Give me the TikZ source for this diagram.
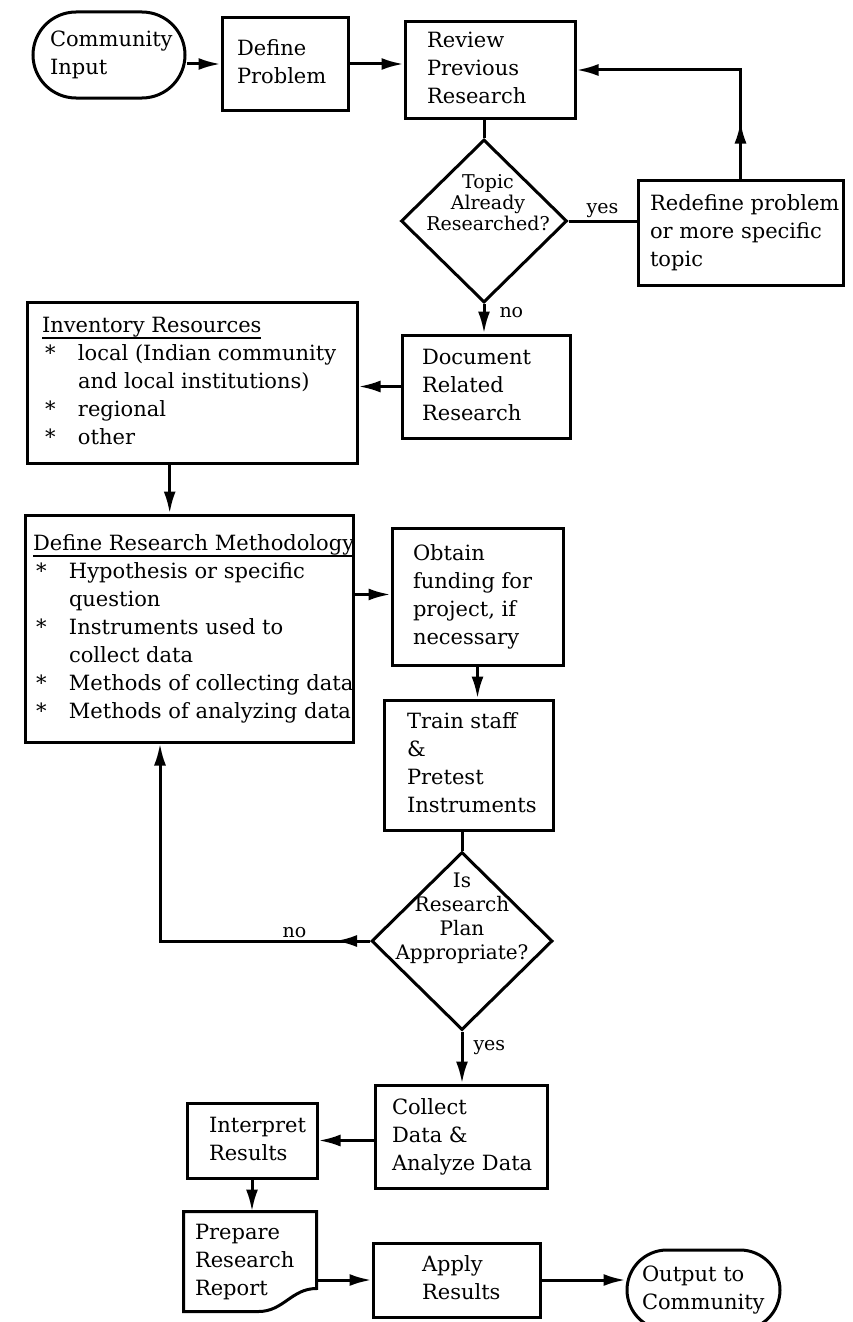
\documentclass[tikz,border=0pt]{standalone}
\usepackage{fontspec}
\setmainfont{DejaVu Serif}
\usetikzlibrary{arrows.meta,shapes.geometric,calc,decorations.markings}
\hyphenpenalty=10000 \exhyphenpenalty=10000
\newlength\bulw \setlength\bulw{36pt}
\newcommand\itm[1]{\makebox[\bulw][l]{\hspace{3pt}*}#1}
\newcommand\cnt[1]{\hspace*{\bulw}#1}
\newsavebox\hdrbox
\newcommand\hdr[1]{\sbox\hdrbox{#1}\usebox\hdrbox\llap{\rule[-7pt]{\wd\hdrbox}{2pt}}}
\newcommand\lbox[2]{\makebox[#1][l]{\begin{tabular}{@{}l@{}}#2\end{tabular}}}
\newcommand\cbox[1]{\begin{tabular}{@{}c@{}}#1\end{tabular}}
\begin{document}
\begin{tikzpicture}[x=1pt, y=-1pt, line width=3pt,
  every node/.style={font=\fontsize{21}{28}\selectfont, inner sep=0pt},
  box/.style={draw, rectangle, line width=3pt},
  arr/.style={-{Latex[length=22pt,width=12pt]}, line width=3pt},
  lbl/.style={font=\fontsize{19}{22}\selectfont, inner sep=2pt},
  dlbla/.style={anchor=center, font=\fontsize{19}{21}\selectfont, inner sep=0pt, xshift=4pt, yshift=16pt},
  dlblb/.style={anchor=center, font=\fontsize{20}{24}\selectfont, inner sep=0pt, yshift=22pt},
  midarrow/.style={postaction={decorate}, decoration={markings, mark=at position #1 with {\arrow{Latex[length=22pt,width=12pt]}}}}]
\useasboundingbox (0,0) rectangle (852,1322);

% nodes
\node[box, rounded corners=43pt, minimum width=152pt, minimum height=86pt] (comm) at (109,55) {\lbox{118pt}{Community\\Input}};
\node[box, minimum width=126pt, minimum height=92pt] (define) at (285,64) {\lbox{96pt}{Define\\Problem}};
\node[box, minimum width=170pt, minimum height=96pt] (review) at (490,70) {\lbox{126pt}{Review\\Previous\\Research}};
\node[box, diamond, minimum width=166pt, minimum height=163pt, label={[dlbla]center:{\cbox{Topic\\Already\\Researched?}}}] (d1) at (484,221) {};
\node[box, minimum width=205pt, minimum height=105pt] (redef) at (740.5,232.5) {\lbox{181pt}{Redefine problem\\or more specific\\topic}};
\node[box, minimum width=330pt, minimum height=161pt] (inv) at (192,382.5) {\lbox{300pt}{\hdr{Inventory Resources}\\ \itm{local (Indian community}\\ \cnt{and local institutions)}\\ \itm{regional}\\ \itm{other}}};
\node[box, minimum width=168pt, minimum height=103pt] (doc) at (486,386.5) {\lbox{128pt}{Document\\Related\\Research}};
\node[box, minimum width=328pt, minimum height=227pt] (drm) at (189,628.5) {\lbox{312pt}{\hdr{Define Research Methodology}\\ \itm{Hypothesis or specific}\\ \cnt{question}\\ \itm{Instruments used to}\\ \cnt{collect data}\\ \itm{Methods of collecting data}\\ \itm{Methods of analyzing data}}};
\node[box, minimum width=171pt, minimum height=137pt] (obtain) at (477.5,596.5) {\lbox{129pt}{Obtain\\funding for\\project, if\\necessary}};
\node[box, minimum width=169pt, minimum height=130pt] (train) at (468.5,765) {\lbox{123pt}{Train staff\\\&\\Pretest\\Instruments}};
\node[box, diamond, minimum width=181pt, minimum height=178pt, label={[dlblb]center:{\cbox{Is\\Research\\Plan\\Appropriate?}}}] (d2) at (462,941) {};
\node[box, minimum width=172pt, minimum height=103pt] (collect) at (461,1136.5) {\lbox{138pt}{Collect\\Data \&\\Analyze Data}};
\node[box, minimum width=130pt, minimum height=75pt] (interp) at (252,1140.5) {\lbox{86pt}{Interpret\\Results}};
\node[minimum width=130pt, minimum height=97pt] (prep) at (250,1261.5) {\lbox{110pt}{Prepare\\Research\\Report}};
\draw (prep.north west) -- (prep.north east) -- ($(prep.south east)+(0,-23)$) .. controls +(-25,0) and +(25,0) .. ($(prep.south west)+(75,0)$) -- (prep.south west) -- cycle;
\node[box, minimum width=167pt, minimum height=74pt] (apply) at (456.5,1280) {\lbox{69pt}{Apply\\Results}};
\node[box, rounded corners=40pt, minimum width=153pt, minimum height=80pt] (out) at (703.5,1290) {\lbox{123pt}{Output to\\Community}};

% connectors
\draw[arr] (comm.east |- define.west) -- (define.west);
\draw[arr] (define.east) -- (define.east -| review.west);
\draw (d1.north |- review.south) -- (d1.north);
\draw (d1.east) -- node[lbl, above]{yes} (d1.east -| redef.west);
\draw[arr, midarrow=57pt] (redef.north) |- (review.east);
\draw[arr] (d1.south) -- node[lbl, right, pos=0.3, xshift=12pt]{no} (d1.south |- doc.north);
\draw[arr] (doc.west) -- (doc.west -| inv.east);
\draw[arr] ($(inv.south west)!0.433!(inv.south east)$) coordinate (ia) -- (ia |- drm.north);
\draw[arr] ($(drm.north east)!0.352!(drm.south east)$) coordinate (da) -- (da -| obtain.west);
\draw[arr] (obtain.south) -- (obtain.south |- train.north);
\draw (d2.north |- train.south) -- (d2.north);
\coordinate (noturn) at (160,941);
\draw[arr, midarrow=35pt] (d2.west) -- node[lbl, above, pos=0.36]{no} (noturn) -- (noturn |- drm.south);
\draw[arr] (d2.south) -- node[lbl, right, pos=0.31, xshift=8pt]{yes} (d2.south |- collect.north);
\draw[arr] (collect.west |- interp.east) -- (interp.east);
\draw[arr] (interp.south) -- (interp.south |- prep.north);
\draw[arr] (prep.east |- apply.west) -- (apply.west);
\draw[arr] (apply.east) -- (apply.east -| out.west);
\end{tikzpicture}
\end{document}
